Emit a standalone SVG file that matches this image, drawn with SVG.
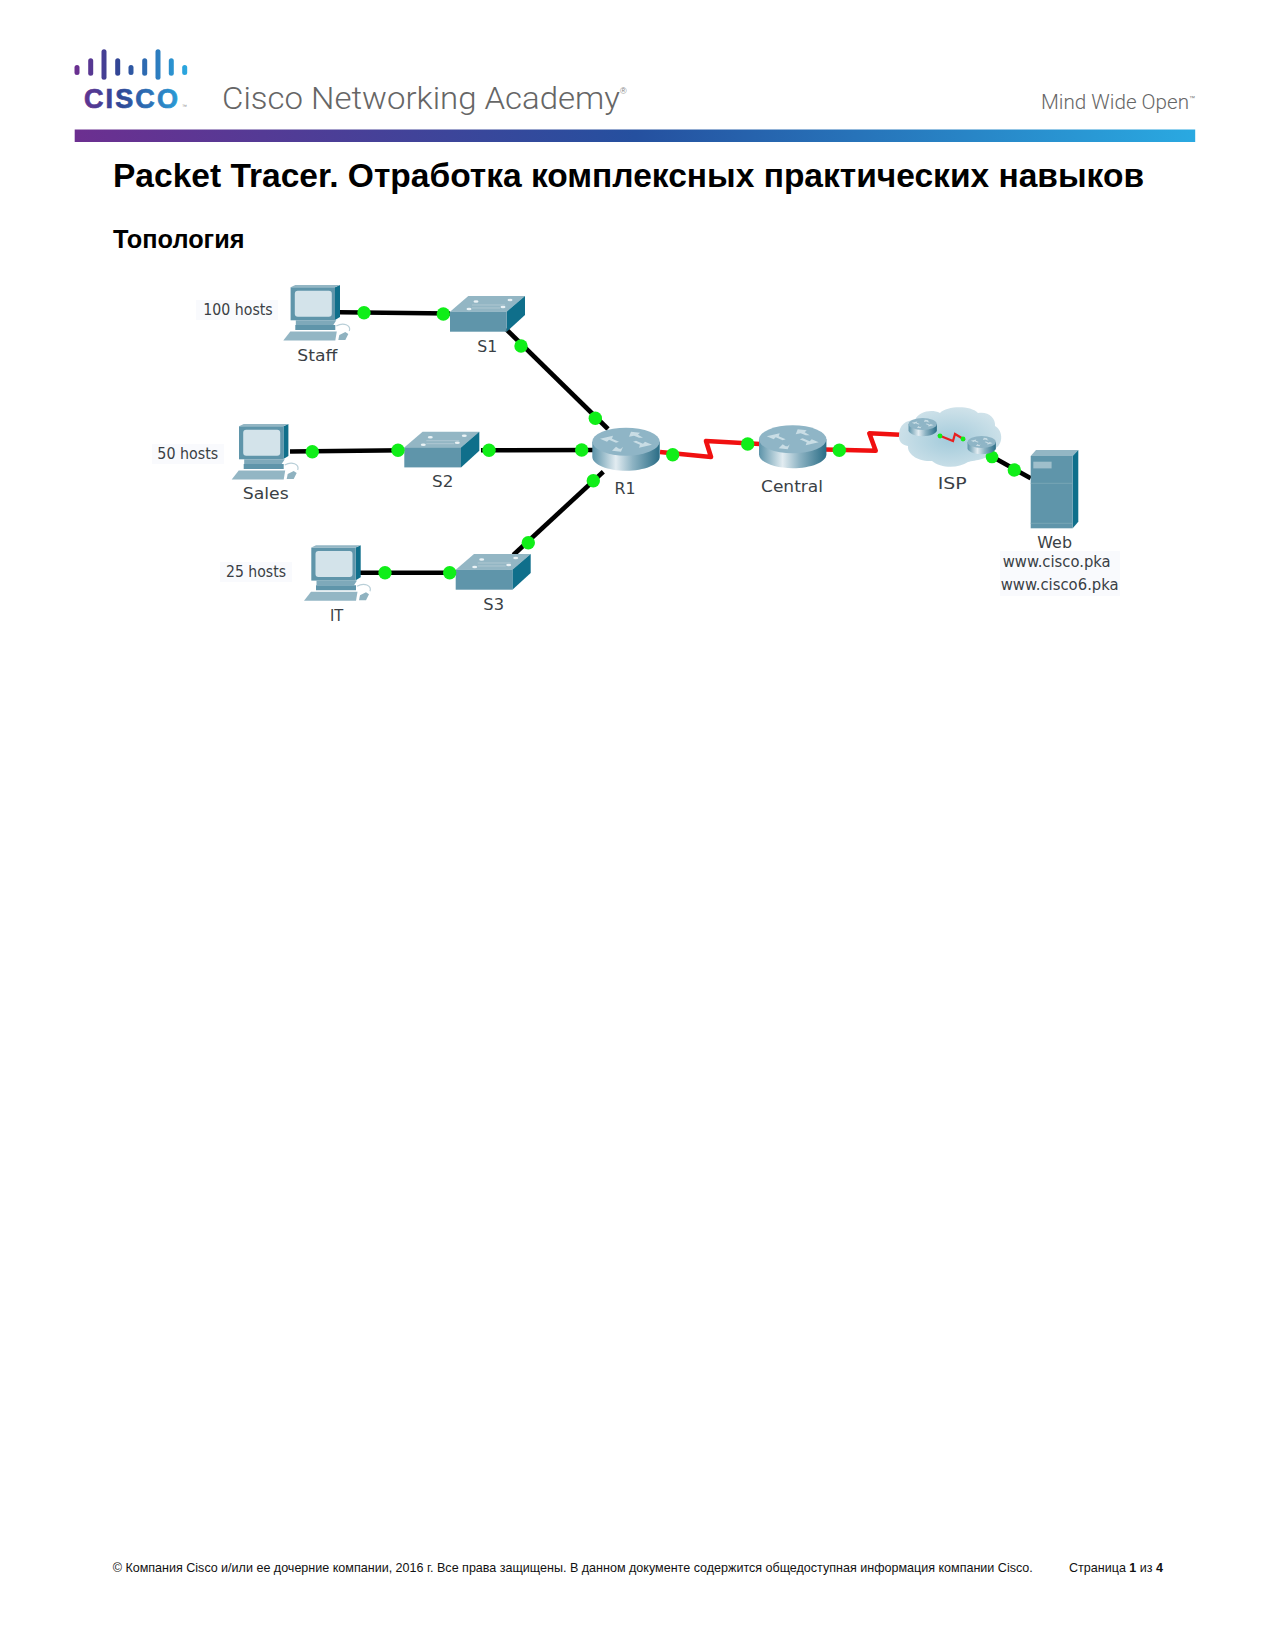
<svg xmlns="http://www.w3.org/2000/svg" width="1275" height="1651" viewBox="0 0 1275 1651">
<style>
text{font-family:"Liberation Sans",Arial,sans-serif}
.h{font-weight:700;fill:#000}
.lb{font-family:"DejaVu Sans",sans-serif;font-size:15.5px;fill:#3a3f45}
.fb{fill:#f9fafd}
.ft{font-size:12.55px;fill:#111}
.eth{fill:none;stroke:#000;stroke-width:4.6}
.ser{fill:none;stroke:#f01010;stroke-width:4.6;stroke-linejoin:round}
.dot{fill:#10ee18}
.bar{fill:url(#logoG)}
.front{fill:#5f95aa}.top{fill:#93b6c4}.side{fill:#0f6f8b}
.ar{fill:#c9dde5;stroke:none}
</style>
<defs>
<linearGradient id="barG" x1="0" x2="1" y1="0" y2="0"><stop offset="0" stop-color="#6c2f90"/><stop offset=".5" stop-color="#25509f"/><stop offset="1" stop-color="#2aa9e1"/></linearGradient>
<linearGradient id="logoG" gradientUnits="userSpaceOnUse" x1="75" x2="188" y1="0" y2="0"><stop offset="0" stop-color="#6c2f90"/><stop offset=".4" stop-color="#2f4796"/><stop offset="1" stop-color="#2aa9e1"/></linearGradient>
<linearGradient id="cyl" x1="0" x2="1" y1="0" y2="0"><stop offset="0" stop-color="#5c93a9"/><stop offset=".35" stop-color="#e2ecf1"/><stop offset=".6" stop-color="#8db3c3"/><stop offset="1" stop-color="#2b6d86"/></linearGradient>
<radialGradient id="cloudG" cx=".5" cy=".55" r=".6"><stop offset="0" stop-color="#a3cbdb"/><stop offset="1" stop-color="#d3e4eb"/></radialGradient>
<g id="pc">
<path class="side" d="M51.7 2.3 56.7 0V32L51.7 35Z"/>
<path class="top" d="M7.3 2.3 12 0H56.7L51.7 2.3Z"/>
<rect class="front" x="7.3" y="2.3" width="44.4" height="33"/>
<rect x="11.5" y="5.7" width="37" height="26" rx="3" fill="#d3e3ea"/>
<path fill="#7ea9ba" d="M12.5 35.3H53L50 40H12.5Z"/>
<path class="front" d="M12 40H52V45H12Z"/>
<path class="top" d="M7 46.5H53.5L52 55.5H0Z"/>
<path d="M53 41C60 37 68 40 66 46" fill="none" stroke="#b9cfd8" stroke-width="1.2"/>
<path fill="#8fb2c0" d="M56 50 62 47 65 49 62 55H55Z"/>
</g>
<g id="sw">
<path class="top" d="M0 15.7 18.3 0H75L56.7 15.7Z"/>
<path class="side" d="M56.7 15.7 75 0V19L56.7 35.7Z"/>
<rect class="front" y="15.7" width="56.7" height="20"/>
<g fill="#eaf2f5"><ellipse cx="26" cy="5.5" rx="2.5" ry="1.2"/><ellipse cx="60" cy="4" rx="2.5" ry="1.2"/><ellipse cx="19" cy="13" rx="2.5" ry="1.2"/><ellipse cx="53" cy="11" rx="2.5" ry="1.2"/></g>
<path d="M22 9H55M22 12H50" stroke="#b5ccd5" stroke-width=".8"/>
</g>
<g id="rt">
<path fill="url(#cyl)" d="M-33.7 0V15C-33.7 23 -18 29 0 29S33.7 23 33.7 15V0Z"/>
<ellipse rx="33.7" ry="14" fill="#8fb5c6"/>
<path class="ar" d="M-26-3-13-6-14-3-7 0-10 1-17-2-19 0ZM26 3 13 6 14 3 7 0 10-1 17 2 19 0ZM5-10 14-9 12-7 17-4 13-4 8-6 3-5ZM-5 10-14 9-12 7-10 5-7 7-5 7-3 5Z"/>
</g>
</defs>

<rect width="1275" height="1651" fill="#fff"/>

<g id="header">
<g>
<rect class="bar" x="74.5" y="65" width="5" height="10" rx="2.5"/><rect class="bar" x="88.2" y="58.3" width="5" height="17.4" rx="2.5"/><rect class="bar" x="101.5" y="49.3" width="5" height="30.4" rx="2.5"/><rect class="bar" x="115.2" y="58.3" width="5" height="17.4" rx="2.5"/><rect class="bar" x="128.5" y="65" width="5" height="10" rx="2.5"/><rect class="bar" x="142.2" y="58.3" width="5" height="17.4" rx="2.5"/><rect class="bar" x="155.5" y="49.3" width="5" height="30.4" rx="2.5"/><rect class="bar" x="168.8" y="58.3" width="5" height="17.4" rx="2.5"/><rect class="bar" x="182.2" y="65" width="5" height="10" rx="2.5"/>
</g>
<text x="84" y="108" class="bar" style="font-weight:700;font-size:27px;stroke:url(#logoG);stroke-width:.7" textLength="94" lengthAdjust="spacing">CISCO</text>
<text x="182" y="108" fill="#888" style="font-size:5px">™</text>
<text x="222" y="109" fill="#666" style="font-family:Roboto,sans-serif;font-weight:300;font-size:31.5px" textLength="398" lengthAdjust="spacingAndGlyphs">Cisco Networking Academy</text>
<text x="620" y="94" fill="#888" style="font-size:9px">®</text>
<text x="1041" y="109" fill="#666" style="font-family:Roboto,sans-serif;font-weight:300;font-size:20px" textLength="148" lengthAdjust="spacingAndGlyphs">Mind Wide Open</text>
<text x="1189" y="100" fill="#777" style="font-size:6px">™</text>
<rect x="74.7" y="129.5" width="1120.5" height="12.5" fill="url(#barG)"/>
</g>
<text class="h" x="113" y="187" style="font-size:33.3px" textLength="1031" lengthAdjust="spacingAndGlyphs">Packet Tracer. Отработка комплексных практических навыков</text>
<text class="h" x="113" y="248" style="font-size:25.3px">Топология</text>

<g id="connectors">
<path class="eth" d="M340 312.3 450 313.5"/>
<path class="eth" d="M506 329 608 429"/>
<path class="eth" d="M290 451.5 404 450.3M481 450.3 595 450"/>
<path class="eth" d="M513.3 555 603.3 471.7"/>
<path class="eth" d="M358 572.7H456"/>
<path class="ser" d="M660 452 711 457 706 441 760 444"/>
<path class="ser" d="M825 449.5 875.7 450.7 869.3 433.3 905 435"/>
<path class="eth" d="M995 458.3 1030.7 478.3"/>
</g>

<g id="node-staff"><rect class="fb" x="196" y="300" width="82" height="20"/><use href="#pc" x="283.3" y="285"/><text class="lb" x="203.3" y="315" textLength="69.4" lengthAdjust="spacingAndGlyphs">100 hosts</text><text class="lb" x="297.3" y="360.7" textLength="40" lengthAdjust="spacingAndGlyphs">Staff</text></g>
<g id="node-sales"><rect class="fb" x="152" y="444" width="72" height="20"/><use href="#pc" x="231.7" y="424"/><text class="lb" x="157.3" y="459.3" textLength="61" lengthAdjust="spacingAndGlyphs">50 hosts</text><text class="lb" x="242.7" y="499.3" textLength="46" lengthAdjust="spacingAndGlyphs">Sales</text></g>
<g id="node-it"><rect class="fb" x="220" y="562" width="72" height="20"/><use href="#pc" x="304" y="545.3"/><text class="lb" x="226" y="576.7" textLength="60" lengthAdjust="spacingAndGlyphs">25 hosts</text><text class="lb" x="330" y="620.7" textLength="13.3" lengthAdjust="spacingAndGlyphs">IT</text></g>
<g id="node-s1"><use href="#sw" x="450" y="296"/><text class="lb" x="477.3" y="351.7" textLength="20" lengthAdjust="spacingAndGlyphs">S1</text></g>
<g id="node-s2"><use href="#sw" x="404.3" y="431.7"/><text class="lb" x="432" y="487.3" textLength="21.3" lengthAdjust="spacingAndGlyphs">S2</text></g>
<g id="node-s3"><use href="#sw" x="455.7" y="554"/><text class="lb" x="483.3" y="610" textLength="20.7" lengthAdjust="spacingAndGlyphs">S3</text></g>
<g id="node-r1"><use href="#rt" x="626" y="441.7"/><text class="lb" x="614.5" y="494" textLength="21" lengthAdjust="spacingAndGlyphs">R1</text></g>
<g id="node-central"><use href="#rt" x="792.7" y="439.3"/><text class="lb" x="761" y="492" textLength="62" lengthAdjust="spacingAndGlyphs">Central</text></g>
<g id="node-isp">
<path fill="url(#cloudG)" d="M899 435C899 425 906 420 915 420 919 411 932 409 940 413 947 406 970 405 978 413 988 411 996 418 995 426 1004 431 1003 446 994 449 990 460 975 460 968 462 958 469 940 468 932 461 918 462 907 454 908 446 902 445 898 441 899 435Z"/>
<circle class="dot" cx="992" cy="457" r="6.3"/>
<use href="#rt" transform="translate(922.7 424) scale(.42)"/>
<use href="#rt" transform="translate(981.7 442) scale(.42)"/>
<path d="M938 435 953 441 955 434 965 440" fill="none" stroke="#e82020" stroke-width="2.2"/>
<circle class="dot" cx="940" cy="436" r="2.4"/><circle class="dot" cx="963" cy="439" r="2.4"/>
<text class="lb" x="937.7" y="489" textLength="29" lengthAdjust="spacingAndGlyphs">ISP</text>
</g>
<g id="node-web">
<rect class="fb" x="1000" y="551" width="120" height="45"/>
<path class="top" d="M1030.7 456 1036 450H1078.3L1072.7 456Z"/>
<path class="side" d="M1072.7 456 1078.3 450V521.7L1072.7 528.3Z"/>
<rect class="front" x="1030.7" y="456" width="42" height="72.3"/>
<rect x="1033.3" y="461.7" width="18.3" height="6.7" fill="#9fbfcb"/>
<path d="M1030.7 483.3H1072.7M1030.7 523.3H1072.7" stroke="#7fa9b9" stroke-width=".8"/>
<text class="lb" x="1037.3" y="547.7" textLength="34.7" lengthAdjust="spacingAndGlyphs">Web</text>
<text class="lb" x="1002.7" y="567.3" textLength="108" lengthAdjust="spacingAndGlyphs">www.cisco.pka</text>
<text class="lb" x="1000.7" y="590" textLength="118" lengthAdjust="spacingAndGlyphs">www.cisco6.pka</text>
</g>
<g id="link-dots">
<circle class="dot" cx="364" cy="312.7" r="6.7"/><circle class="dot" cx="443.3" cy="314" r="6.7"/><circle class="dot" cx="521" cy="346" r="6.7"/><circle class="dot" cx="595.3" cy="418.3" r="6.7"/><circle class="dot" cx="312.3" cy="451.7" r="6.7"/><circle class="dot" cx="398" cy="450.3" r="6.7"/><circle class="dot" cx="489" cy="450.3" r="6.7"/><circle class="dot" cx="581.7" cy="450" r="6.7"/><circle class="dot" cx="593.3" cy="480.7" r="6.7"/><circle class="dot" cx="528.3" cy="542.7" r="6.7"/><circle class="dot" cx="385" cy="572.7" r="6.7"/><circle class="dot" cx="449.7" cy="572.7" r="6.7"/><circle class="dot" cx="672.7" cy="454.7" r="6.7"/><circle class="dot" cx="747.7" cy="444" r="6.7"/><circle class="dot" cx="839.3" cy="450.3" r="6.7"/><circle class="dot" cx="1014.3" cy="470" r="6.7"/>
</g>
<g id="footer">
<text class="ft" x="112.7" y="1572" textLength="920" lengthAdjust="spacing">© Компания Cisco и/или ее дочерние компании, 2016 г. Все права защищены. В данном документе содержится общедоступная информация компании Cisco.</text>
<text class="ft" x="1069" y="1572">Страница <tspan font-weight="700">1</tspan> из <tspan font-weight="700">4</tspan></text>
</g>
</svg>
